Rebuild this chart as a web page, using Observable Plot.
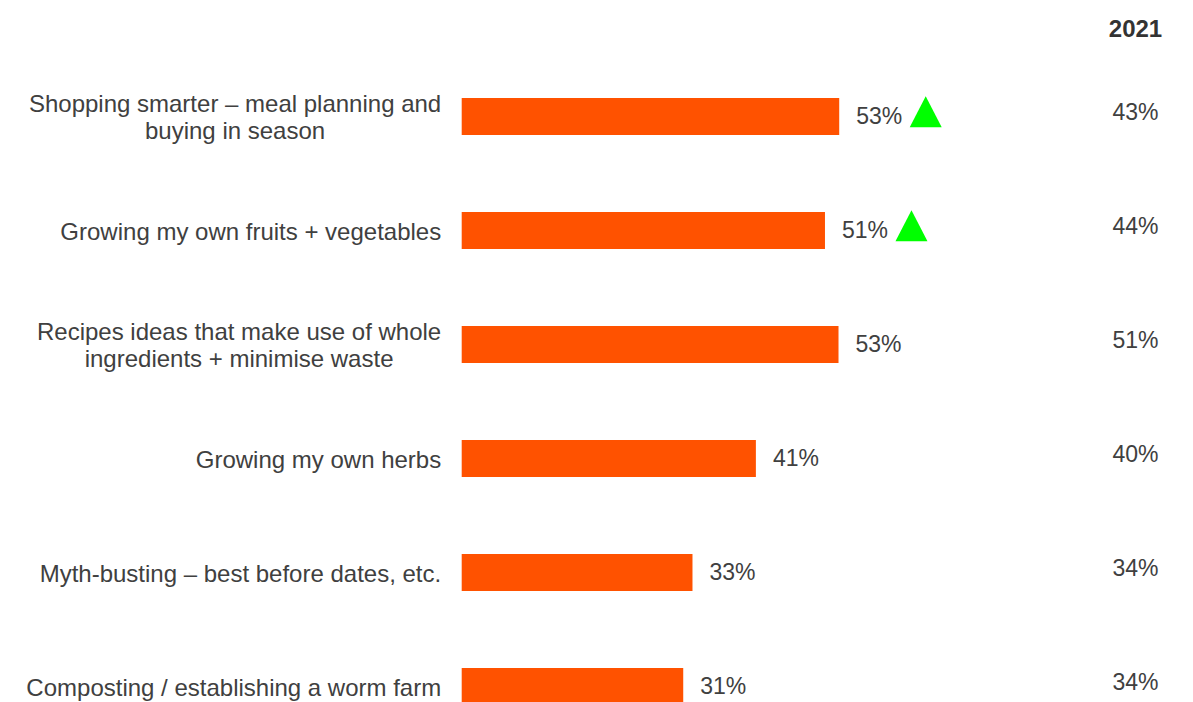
<!DOCTYPE html>
<html><head><meta charset="utf-8">
<script src="https://cdn.jsdelivr.net/npm/d3@7"></script>
<script src="https://cdn.jsdelivr.net/npm/@observablehq/plot@0.6"></script>
<style>html,body{margin:0;padding:0;background:#fff;overflow:hidden}</style>
</head><body><div id="chart"></div>
<script>
const categories = [
  "Shopping smarter – meal planning and\nbuying in season",
  "Growing my own fruits + vegetables",
  "Recipes ideas that make use of whole\ningredients + minimise waste",
  "Growing my own herbs",
  "Myth-busting – best before dates, etc.",
  "Composting / establishing a worm farm"
];
const values2023 = [53.0, 51.0, 52.9, 41.3, 32.4, 31.1];
const labels2023 = ["53%", "51%", "53%", "41%", "33%", "31%"];
const labels2021 = ["43%", "44%", "51%", "40%", "34%", "34%"];
const significantUp = [true, true, false, false, false, false];
const compareHeader = "2021";

const data = categories.map((c, i) => ({
  category: c, value: values2023[i], label: labels2023[i], prev: labels2021[i], up: significantUp[i]
}));

// upward triangle, slightly taller than equilateral (as in the reference)
const tallTriangle = {
  draw(context, size) {
    const r = Math.sqrt(size / Math.PI);
    const w = 1.333 * r, top = -1.72 * r, bottom = 0.86 * r;
    context.moveTo(0, top);
    context.lineTo(w, bottom);
    context.lineTo(-w, bottom);
    context.closePath();
  }
};

const chart = Plot.plot({
  width: 1193, height: 702,
  marginLeft: 461.7, marginRight: 19, marginTop: 97.3, marginBottom: -3.6,
  x: {domain: [0, 100], axis: null},
  y: {domain: categories, axis: null, paddingInner: 0.676, paddingOuter: 0},
  style: {fontFamily: "'Liberation Sans', Arial, sans-serif", color: "#404040", background: "#fff"},
  marks: [
    Plot.barX(data, {x: "value", y: "category", fill: "#ff5200"}),
    Plot.text(data, {x: "value", y: "category", text: "label", textAnchor: "start", dx: 16.5, fontSize: 23, fill: "#404040"}),
    Plot.dot(data.filter(d => d.up), {x: "value", y: "category", symbol: tallTriangle, r: 12, fill: "#00ff00", dx: 86}),
    Plot.text(data, {x: 0, y: "category", text: "category", textAnchor: "end", dx: -21, fontSize: 24, lineHeight: 1.12, fill: "#404040"}),
    Plot.text(data, {frameAnchor: "right", y: "category", text: "prev", dx: -39, dy: -4, fontSize: 23, textAnchor: "middle", fill: "#404040"}),
    Plot.text([compareHeader], {frameAnchor: "top-right", text: d => d, dx: -39, dy: -78, fontSize: 24, fontWeight: "bold", textAnchor: "middle", fill: "#333"})
  ]
});
document.getElementById("chart").appendChild(chart);

// center multi-line category labels within their right-aligned block
chart.querySelectorAll("text").forEach(t => {
  const spans = t.querySelectorAll("tspan");
  if (spans.length > 1) {
    let maxW = 0;
    spans.forEach(s => { maxW = Math.max(maxW, s.getComputedTextLength()); });
    t.setAttribute("text-anchor", "middle");
    spans.forEach(s => s.setAttribute("x", -maxW / 2));
  }
});
</script>
</body></html>
